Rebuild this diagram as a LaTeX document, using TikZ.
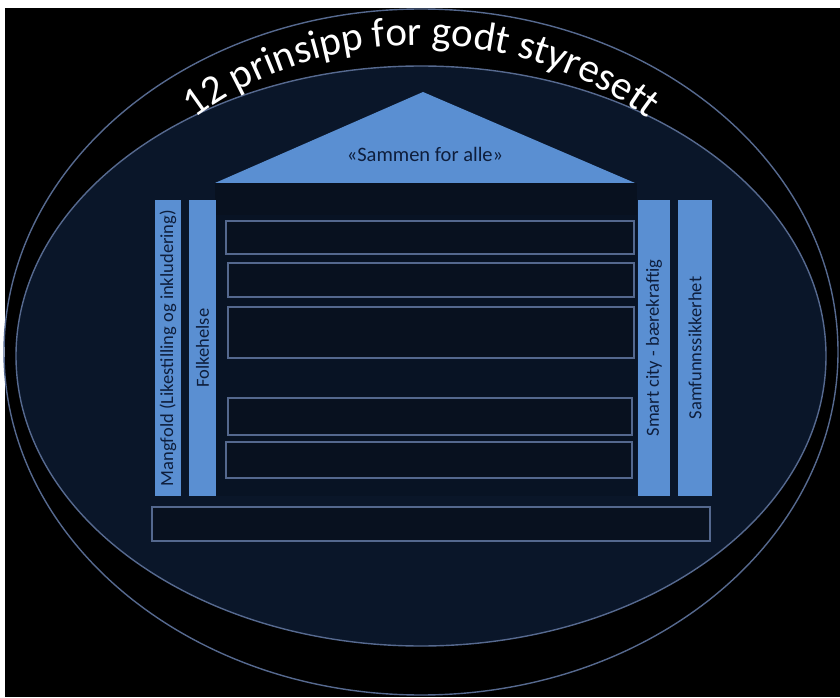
\documentclass[tikz,border=0pt]{standalone}
\usepackage{fontspec}
\setmainfont{Carlito}
\usetikzlibrary{positioning,decorations.text,backgrounds}
\definecolor{ringline}{HTML}{56698F}
\definecolor{innernavy}{HTML}{0A1629}
\definecolor{hallnavy}{HTML}{081324}
\definecolor{beamdark}{HTML}{08111F}
\definecolor{pillarblue}{HTML}{5A8FD2}
\definecolor{inktext}{HTML}{0E1E3C}
\definecolor{beamline}{HTML}{54688E}

\begin{document}
\begin{tikzpicture}[
  x=1pt,y=1pt,
  pillar/.style={fill=pillarblue,draw=none,minimum height=296pt,
              inner sep=0pt,font=\fontsize{18.5}{20}\selectfont,text=inktext},
  beam/.style={draw=beamline,line width=1.6pt,fill=beamdark,minimum width=406pt,
              inner sep=0pt,font=\fontsize{14}{16}\selectfont,text=inktext},
  roof/.style={fill=pillarblue,draw=none},
  lbl/.style={font=\fontsize{20.5}{22}\selectfont,text=inktext}]

  % page and rings
  \fill[white] (0,0) rectangle (840,697);
  \fill[black] (5,0) rectangle (840,689);
  \useasboundingbox (0,0) rectangle (840,697);
  \draw[ringline,line width=1.4pt] (421,345) ellipse[x radius=417,y radius=343];
  \draw[ringline,line width=1.4pt,fill=innernavy] (421,341) ellipse[x radius=405,y radius=290];

  % title along the ring
  \path[decorate,decoration={text along path,text align=center,text color=white,
        text={|\fontsize{41}{46}\selectfont|12 prinsipp for godt styresett}}]
        (92.1,447.4) arc[start angle=160,end angle=20,x radius=350,y radius=311];

  % hall
  \fill[hallnavy] (215,201) rectangle (637,514);
  \fill[roof] (215,514) -- (423,605) -- (635,514) -- cycle;
  \node[lbl] (motto) at (425,543) {«Sammen for alle»};

  \node[beam,draw=none,minimum width=422pt,minimum height=32pt] (row1) at (426,498) {};
  \node[beam,minimum width=408pt,minimum height=33pt] (row2) at (430,459.5) {};
  \node[beam,minimum height=34pt] (row3) at (431,417) {};
  \node[beam,minimum height=51pt] (row4) at (431,364.5) {};
  \node[beam,draw=none,fill=none,minimum height=32pt] (row5) at (431,321) {};
  \node[beam,minimum width=404pt,minimum height=37pt] (row6) at (430,280.5) {};
  \node[beam,minimum width=406pt,minimum height=36pt] (row7) at (429,237) {};
  \node[beam,minimum width=558pt,minimum height=34pt] (base) at (431,173) {};

  % pillars
  \node[pillar,minimum width=26pt] (mangfold) at (168,349)
        {\rotatebox{90}{Mangfold (Likestilling og inkludering)}};
  \node[pillar,minimum width=27pt] (folkehelse) at (202.5,349)
        {\rotatebox{90}{Folkehelse}};
  \node[pillar,minimum width=32pt] (smartcity) at (654,349)
        {\rotatebox{90}{Smart city - bærekraftig}};
  \node[pillar,minimum width=34pt] (sikkerhet) at (695,349)
        {\rotatebox{90}{Samfunnssikkerhet}};
\end{tikzpicture}
\end{document}
